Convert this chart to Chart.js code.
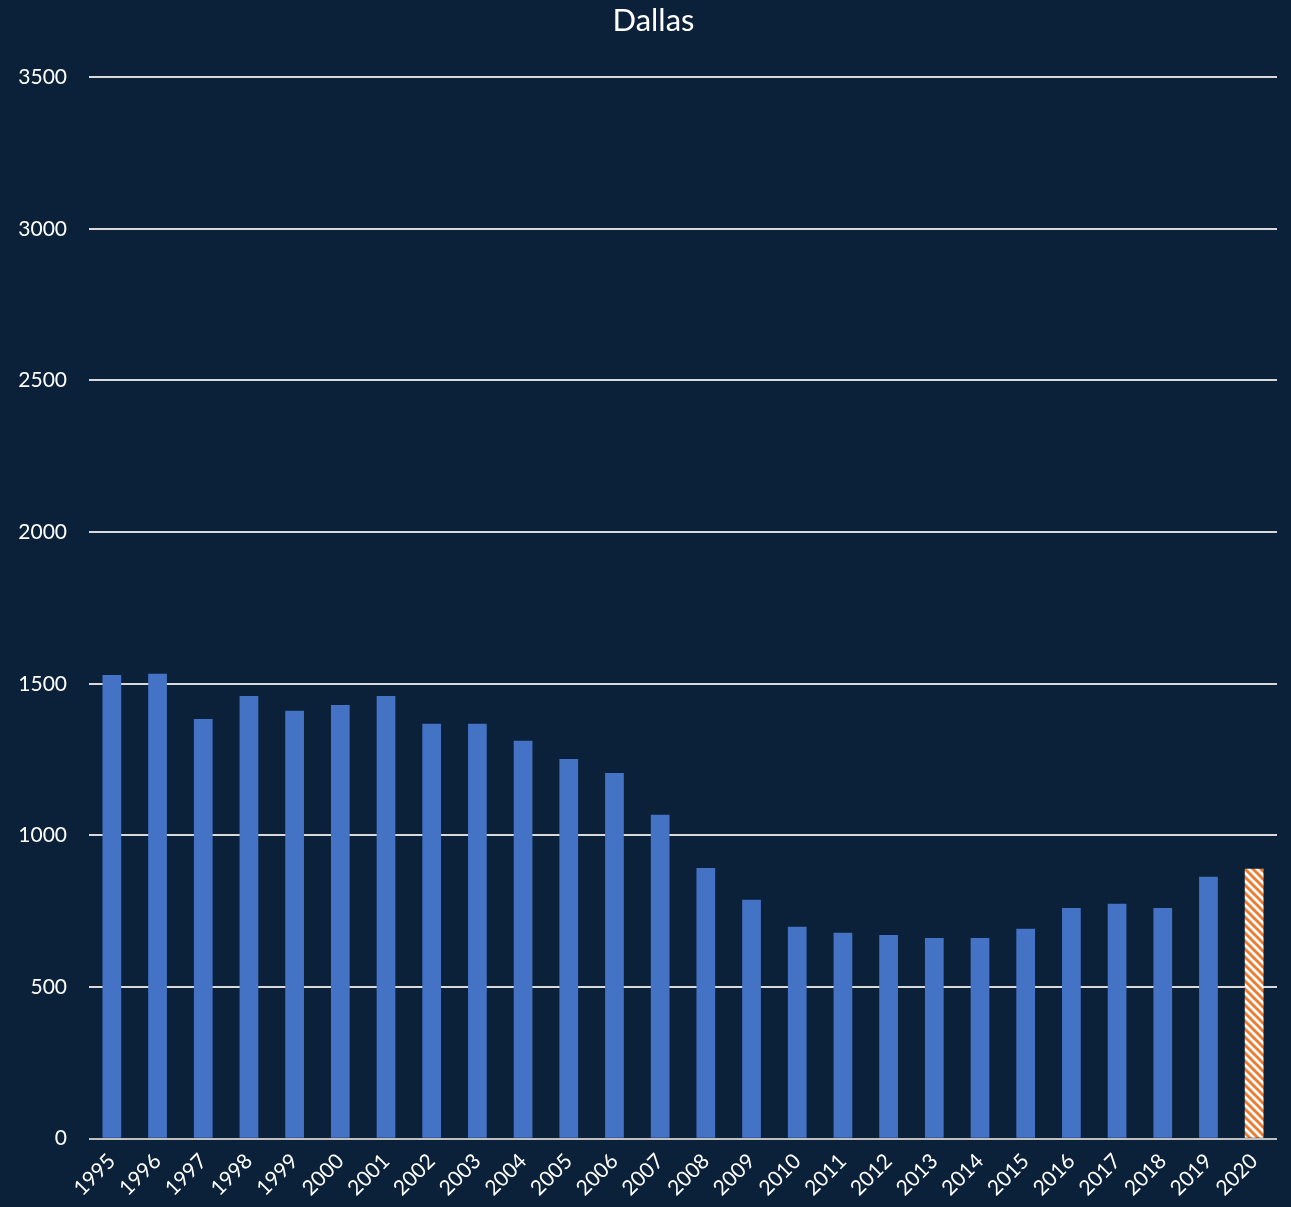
<!DOCTYPE html>
<html lang="en">
<head>
    <meta charset="UTF-8">
    <title>Dallas</title>
    <script src="https://cdn.jsdelivr.net/npm/chart.js"></script>
    <style>
        body {
            margin: 0;
            padding: 0;
            background-color: #0b2039;
        }
        .wrap {
            width: 1291px;
            height: 1207px;
        }
    </style>
</head>
<body>
    <div class="wrap">
        <canvas id="dallasChart" width="1291" height="1207"></canvas>
    </div>
    <script>
        const years = ['1995', '1996', '1997', '1998', '1999', '2000', '2001', '2002', '2003', '2004', '2005', '2006', '2007',
            '2008', '2009', '2010', '2011', '2012', '2013', '2014', '2015', '2016', '2017', '2018', '2019', '2020'];
        const values = [1529, 1533, 1384, 1460, 1411, 1430, 1460, 1368, 1368, 1312, 1252, 1206, 1068,
            893, 788, 699, 679, 672, 662, 662, 692, 761, 775, 761, 864, 890];
        const yTicks = [0, 500, 1000, 1500, 2000, 2500, 3000, 3500];

        // hatched fill for the last (estimated) year
        function makeHatch() {
            const c = document.createElement('canvas');
            c.width = 8;
            c.height = 8;
            const g = c.getContext('2d');
            g.fillStyle = '#ffffff';
            g.fillRect(0, 0, 8, 8);
            g.strokeStyle = '#ed7d31';
            g.lineWidth = 3;
            g.beginPath();
            g.moveTo(-4, -4); g.lineTo(12, 12);
            g.moveTo(-8, 0); g.lineTo(0, 8);
            g.moveTo(0, -8); g.lineTo(8, 0);
            g.moveTo(4, -4); g.lineTo(12, 4);
            g.moveTo(-4, 4); g.lineTo(4, 12);
            g.stroke();
            return g.createPattern(c, 'repeat');
        }

        const ctx = document.getElementById('dallasChart').getContext('2d');
        const hatch = makeHatch();
        const barColors = years.map(y => y === '2020' ? hatch : '#4472c4');

        const bgPlugin = {
            id: 'bg',
            beforeDraw(chart) {
                const c = chart.ctx;
                c.save();
                c.fillStyle = '#0b2039';
                c.fillRect(0, 0, chart.width, chart.height);
                c.restore();
            },
            // title sits a little right of the canvas centre in the original
            afterLayout(chart) {
                if (chart.titleBlock) {
                    chart.titleBlock.left += 15;
                    chart.titleBlock.right += 15;
                }
            }
        };

        new Chart(ctx, {
            type: 'bar',
            data: {
                labels: years,
                datasets: [{
                    label: 'Dallas',
                    data: values,
                    backgroundColor: barColors,
                    borderWidth: 0,
                    barPercentage: 0.82,
                    categoryPercentage: 0.5
                }]
            },
            options: {
                responsive: false,
                animation: false,
                layout: { padding: { left: 0, right: 14, top: 0, bottom: 4 } },
                plugins: {
                    legend: { display: false },
                    tooltip: { enabled: false },
                    title: {
                        display: true,
                        text: 'Dallas',
                        color: '#ffffff',
                        font: { family: 'Lato', size: 31, weight: 'normal' },
                        padding: { top: 2, bottom: 38 }
                    }
                },
                scales: {
                    x: {
                        grid: { display: false },
                        border: { display: false },
                        ticks: {
                            color: '#ffffff',
                            font: { family: 'Lato', size: 21 },
                            maxRotation: 45,
                            minRotation: 45,
                            padding: 2
                        }
                    },
                    y: {
                        min: 0,
                        max: 3500,
                        afterFit(scale) { scale.width = 89; },
                        afterBuildTicks(scale) { scale.ticks = yTicks.map(v => ({ value: v })); },
                        grid: {
                            color: c => c.tick && c.tick.value === 0 ? '#bfbfbf' : '#d9d9d9',
                            lineWidth: 2,
                            drawTicks: false
                        },
                        border: { display: false },
                        ticks: {
                            color: '#ffffff',
                            font: { family: 'Lato', size: 21 },
                            padding: 22,
                            callback: v => String(v)
                        }
                    }
                }
            },
            plugins: [bgPlugin]
        });
    </script>
</body>
</html>
